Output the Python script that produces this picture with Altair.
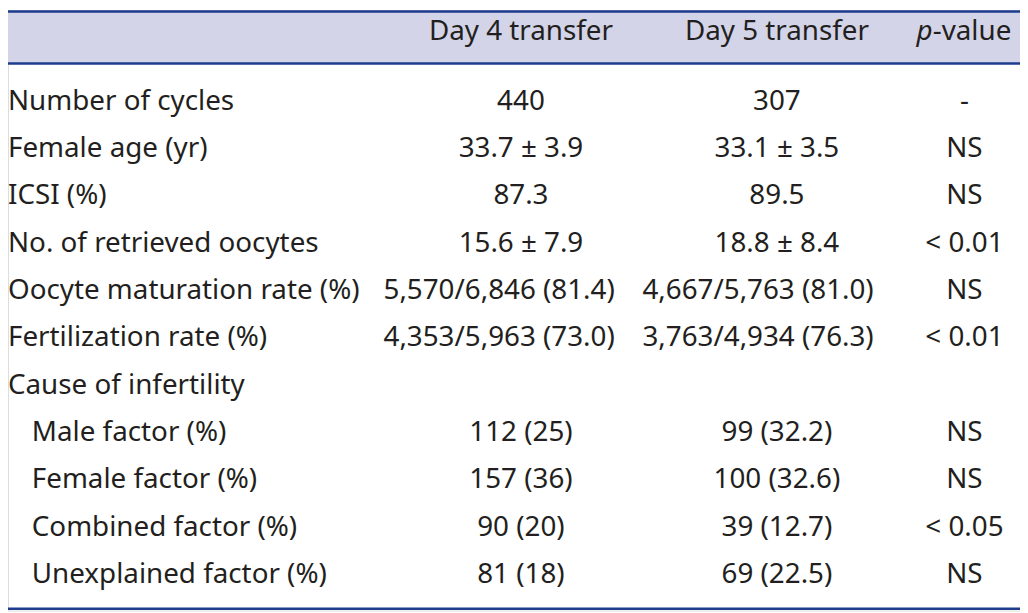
import altair as alt
import pandas as pd

# ---- data ----
labels = ["Number of cycles", "Female age (yr)", "ICSI (%)", "No. of retrieved oocytes",
          "Oocyte maturation rate (%)", "Fertilization rate (%)", "Cause of infertility",
          "Male factor (%)", "Female factor (%)", "Combined factor (%)", "Unexplained factor (%)"]
indent = [False, False, False, False, False, False, False, True, True, True, True]
day4 = ["440", "33.7 \u00b1 3.9", "87.3", "15.6 \u00b1 7.9", "5,570/6,846 (81.4)",
        "4,353/5,963 (73.0)", "", "112 (25)", "157 (36)", "\u200790 (20)", "\u200781 (18)"]
day5 = ["307", "33.1 \u00b1 3.5", "89.5", "18.8 \u00b1 8.4", "4,667/5,763 (81.0)",
        "3,763/4,934 (76.3)", "", "\u200799 (32.2)", "100 (32.6)", "\u200739 (12.7)", "\u200769 (22.5)"]
pval = ["-", "NS", "NS", "< 0.01", "NS", "< 0.01", "", "NS", "NS", "< 0.05", "NS"]
headers = ["Day 4 transfer", "Day 5 transfer"]

W, H = 1020, 605
FONT = "'Noto Sans', 'Open Sans', sans-serif"
FS = 28
TXT = "#231f20"
BAND = "#d3d4e8"
LINE = "#1d3c8c"

# column layout
col_center = {"d4": 517, "d5": 775, "p": 964}
col_long = {"d4": 495, "d5": 756}

recs = []
for i, lab in enumerate(labels):
    recs.append(dict(row=i, x=24 if indent[i] else 0, text=lab, align="left"))
    for key, arr in (("d4", day4), ("d5", day5), ("p", pval)):
        t = arr[i]
        if not t:
            continue
        if key in col_long and len(t) > 12:
            recs.append(dict(row=i, x=col_long[key], text=t, align="center"))
        else:
            recs.append(dict(row=i, x=col_center[key], text=t, align="center"))
df = pd.DataFrame(recs)

xs = alt.Scale(domain=[0, W], range=[0, W], zero=False, nice=False)
ys = alt.Scale(domain=[0, 10], range=[92, 569], zero=False, nice=False)

band = alt.Chart(pd.DataFrame({"a": [0]})).mark_rect(color=BAND).encode(
    x=alt.value(0), x2=alt.value(W), y=alt.value(0), y2=alt.value(54))
lines = alt.Chart(pd.DataFrame({"yy": [1.2, 53.5, 603]})).mark_rule(color=LINE, strokeWidth=2.5).encode(
    x=alt.value(0), x2=alt.value(W), y=alt.Y("yy:Q", scale=alt.Scale(domain=[0, H], range=[0, H], zero=False, nice=False), axis=None))

def txt_layer(align):
    return alt.Chart(df[df["align"] == align]).mark_text(
        align=align, baseline="middle", font=FONT, fontSize=FS, color=TXT).encode(
        x=alt.X("x:Q", scale=xs, axis=None),
        y=alt.Y("row:Q", scale=ys, axis=None),
        text="text:N")

HY = 22
hdr = pd.DataFrame({"x": [col_center["d4"], col_center["d5"]], "text": headers})
hdr_layer = alt.Chart(hdr).mark_text(align="center", baseline="middle", font=FONT, fontSize=FS, color=TXT).encode(
    x=alt.X("x:Q", scale=xs, axis=None), y=alt.value(HY), text="text:N")
p_italic = alt.Chart(pd.DataFrame({"t": ["p"]})).mark_text(align="right", baseline="middle", font=FONT,
    fontSize=FS, fontStyle="italic", color=TXT).encode(x=alt.value(932), y=alt.value(HY), text="t:N")
p_rest = alt.Chart(pd.DataFrame({"t": ["-value"]})).mark_text(align="left", baseline="middle", font=FONT,
    fontSize=FS, color=TXT).encode(x=alt.value(932), y=alt.value(HY), text="t:N")

chart = alt.layer(band, lines, hdr_layer, p_italic, p_rest, txt_layer("left"), txt_layer("center")).properties(
    width=W, height=H, padding=0, autosize=alt.AutoSizeParams(type="none")
).resolve_scale(y="independent").configure_view(stroke=None).configure(background="white")

chart.save("out.html", embed_options={"renderer": "svg", "actions": False})
